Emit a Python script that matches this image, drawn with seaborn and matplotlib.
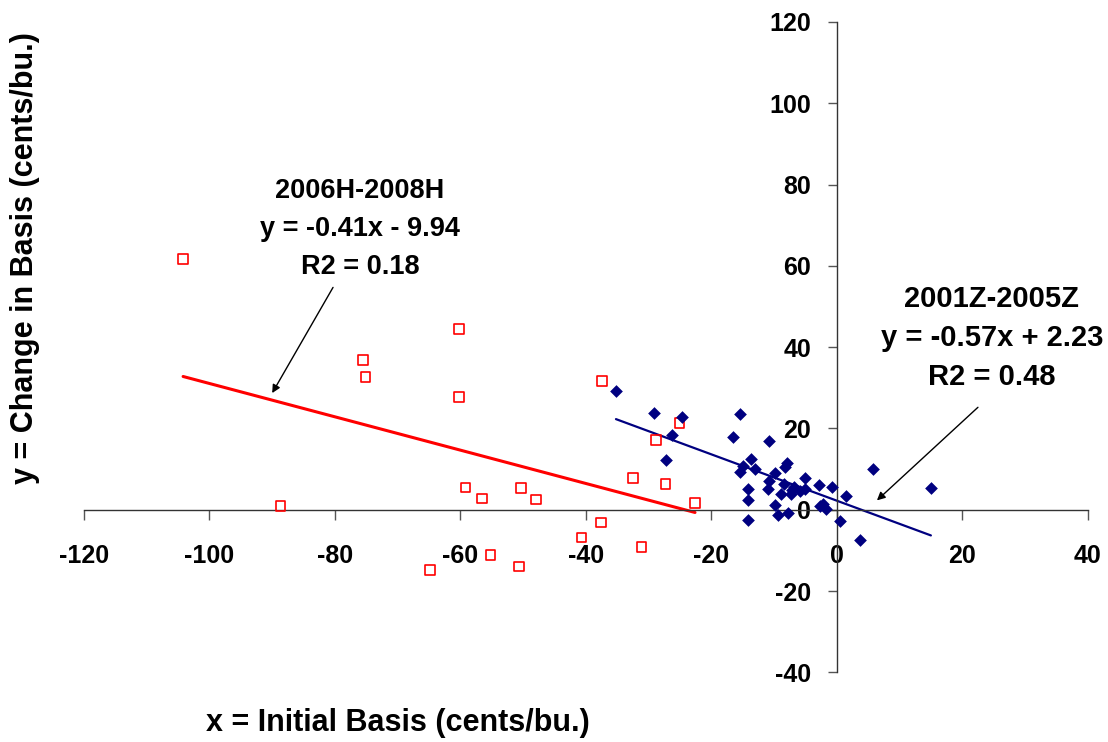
"""Change in basis vs initial basis, two contract periods with trend lines."""

import matplotlib
matplotlib.use("Agg")
import matplotlib.pyplot as plt
import numpy as np
import seaborn as sns

# 2006H-2008H (red hollow squares)
red_x = [-104.2, -60.2, -75.5, -75.1, -60.2, -88.7, -59.2, -56.6, -50.3, -47.9, -64.8,
         -55.2, -50.7, -40.7, -37.6, -37.4, -32.5, -31.1, -28.8, -27.3, -25.1, -22.6]
red_y = [61.7, 44.5, 36.8, 32.7, 27.8, 0.9, 5.5, 2.8, 5.3, 2.5, -14.9,
         -11.2, -14.0, -6.8, -3.1, 31.6, 7.8, -9.1, 17.1, 6.4, 21.3, 1.6]

# 2001Z-2005Z (navy diamonds)
blue_x = [-35.2, -29.2, -24.7, -26.2, -27.3, -15.5, -16.6, -10.8, -13.6, -14.9, -15.4,
          -13.0, -7.9, -8.3, -9.8, -10.8, -10.9, -14.1, -14.1, -14.1, -9.8, -9.3, -7.8,
          -8.9, -8.4, -7.2, -6.8, -7.3, -5.9, -5.0, -5.1, -2.8, -0.7, -2.7, -2.2, -1.7,
          0.5, 1.4, 5.8, 3.7, 15.0]
blue_y = [29.2, 23.8, 22.8, 18.5, 12.3, 23.5, 17.9, 16.9, 12.6, 10.7, 9.3,
          10.0, 11.5, 10.5, 9.1, 7.1, 5.0, 5.2, 2.5, -2.6, 1.1, -1.2, -0.8,
          3.8, 6.4, 4.8, 5.6, 3.8, 4.6, 7.7, 5.0, 6.0, 5.7, 0.9, 1.4, 0.3,
          -2.7, 3.5, 9.9, -7.5, 5.3]

# fitted trend lines as printed on the chart: slope, intercept
red_fit = (-0.41, -9.94)
blue_fit = (-0.57, 2.23)
red_label = ["2006H-2008H", "y = -0.41x - 9.94", "R2 = 0.18"]
blue_label = ["2001Z-2005Z", "y = -0.57x + 2.23", "R2 = 0.48"]

x_ticks = list(range(-120, 41, 20))
y_ticks = list(range(-40, 121, 20))

sns.set_style("white")
plt.rcParams["font.family"] = ["Liberation Sans", "DejaVu Sans"]
plt.rcParams["font.weight"] = "bold"
plt.rcParams["axes.unicode_minus"] = False
plt.rcParams["text.color"] = "black"
plt.rcParams["axes.labelcolor"] = "black"

fig = plt.figure(figsize=(11.08, 7.42), dpi=100)
ax = fig.add_axes([0.0758, 0.0939, 0.9059, 0.8765])

sns.scatterplot(x=red_x, y=red_y, ax=ax, marker="s", s=48, facecolor="none",
                edgecolor="#ff0000", linewidth=1.2, zorder=3)
sns.scatterplot(x=blue_x, y=blue_y, ax=ax, marker="D", s=42, color="#000080",
                linewidth=0, zorder=3)

for xs, fit, col, lw in [(red_x, red_fit, "#ff0000", 2.2), (blue_x, blue_fit, "#000080", 1.6)]:
    lx = np.array([min(xs), max(xs)])
    sns.lineplot(x=lx, y=fit[0] * lx + fit[1], ax=ax, color=col, lw=lw, zorder=2)

ax.set_xlim(-120, 40)
ax.set_ylim(-40, 120)
ax.set_xticks(x_ticks)
ax.set_yticks(y_ticks)

ax.spines["left"].set_position(("data", 0))
ax.spines["bottom"].set_position(("data", 0))
ax.spines["top"].set_visible(False)
ax.spines["right"].set_visible(False)
for sp in ("left", "bottom"):
    ax.spines[sp].set_color("#333333")
    ax.spines[sp].set_linewidth(1.0)

ax.tick_params(axis="x", direction="out", length=7, width=1, color="#555555",
               labelcolor="black", pad=18, labelsize=18, bottom=True)
ax.tick_params(axis="y", direction="out", length=6.5, width=1, color="#555555",
               labelcolor="black", pad=12, labelsize=18, left=True)
for lab in ax.get_xticklabels() + ax.get_yticklabels():
    lab.set_fontweight("bold")

fig.text(0.3592, 0.0256, "x = Initial Basis (cents/bu.)", fontsize=22,
         fontweight="bold", ha="center", va="center")
fig.text(0.0226, 0.6523, "y = Change in Basis (cents/bu.)", fontsize=22,
         fontweight="bold", ha="center", va="center", rotation=90)

ax.text(-76.0, 69.0, "\n".join(red_label), ha="center", va="center",
        fontsize=19.5, fontweight="bold", linespacing=1.6, color="black")
ax.text(24.7, 42.2, "\n".join(blue_label), ha="center", va="center",
        fontsize=21, fontweight="bold", linespacing=1.5, color="black")

arrow = dict(arrowstyle="-|>", color="black", lw=1.0, mutation_scale=12,
             shrinkA=0, shrinkB=0)
ax.annotate("", xy=(-90.0, 28.7), xytext=(-80.3, 54.7), arrowprops=arrow)
ax.annotate("", xy=(6.4, 2.3), xytext=(22.5, 25.2), arrowprops=arrow)

plt.savefig("out.png", dpi=100)
plt.close()
